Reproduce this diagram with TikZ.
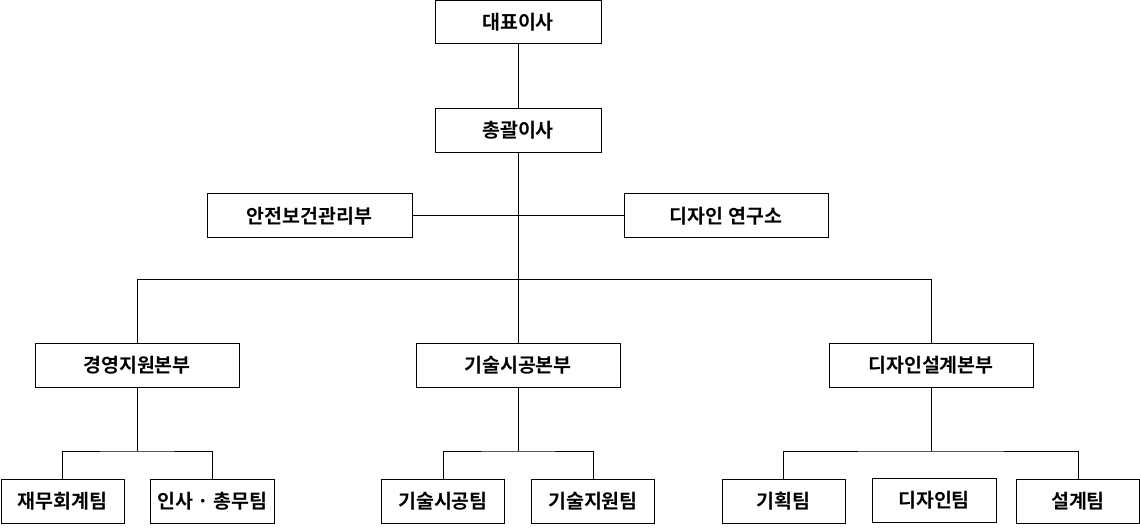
\documentclass[tikz,border=0pt]{standalone}
\usepackage{fontspec}
\setmainfont{Noto Sans CJK KR}[BoldFont={* Bold}]
\newfontfamily\kor{Noto Sans CJK KR Bold}
\begin{document}
\begin{tikzpicture}[x=1pt,y=-1pt,
  box/.style={draw=black,line width=1pt,fill=white,inner sep=0pt,minimum height=44pt,font=\kor\fontsize{19.5pt}{19.5pt}\selectfont,text=black},
  wide/.style={box,minimum width=204pt},
  team/.style={box,minimum width=123pt},
  conn/.style={line width=1pt,draw=black}]
\useasboundingbox (0,0) rectangle (1140,529);
\node[box,minimum width=166pt,minimum height=43pt] (ceo) at (518,22.5) {대표이사};
\node[box,minimum width=166pt] (gm) at (518,130.5) {총괄이사};
\node[wide,minimum width=205pt] (safe) at (309.5,216) {안전보건관리부};
\node[wide] (lab) at (726,216) {디자인 연구소};
\node[wide] (d1) at (137,365) {경영지원본부};
\node[wide] (d2) at (518,365) {기술시공본부};
\node[wide] (d3) at (931,365) {디자인설계본부};
\node[team] (t1) at (62.5,501) {재무회계팀};
\node[team,minimum width=124pt] (t2) at (212.5,501) {인사 · 총무팀};
\node[team] (t3) at (443,501) {기술시공팀};
\node[team] (t4) at (593,501) {기술지원팀};
\node[team] (t5) at (783.5,501) {기획팀};
\node[team,minimum width=124pt] (t6) at (934,500.5) {디자인팀};
\node[team] (t7) at (1078,501) {설계팀};
\coordinate (bus) at (518,279.5);
\coordinate (b1) at (137,451);
\coordinate (b2) at (518,451);
\coordinate (b3) at (931,451);
\draw[conn] (ceo) -- (gm);
\draw[conn] (gm) -- (d2);
\draw[conn] (safe) -- (lab);
\draw[conn] (d1.north) |- (bus) -| (d3.north);
\draw[conn] (d1) -- (b1);
\draw[conn] (t1.north) |- (b1) -| (t2.north);
\draw[conn] (d2) -- (b2);
\draw[conn] (t3.north) |- (b2) -| (t4.north);
\draw[conn] (d3) -- (b3);
\draw[conn] (t5.north) |- (b3) -| (t7.north);
\end{tikzpicture}
\end{document}
